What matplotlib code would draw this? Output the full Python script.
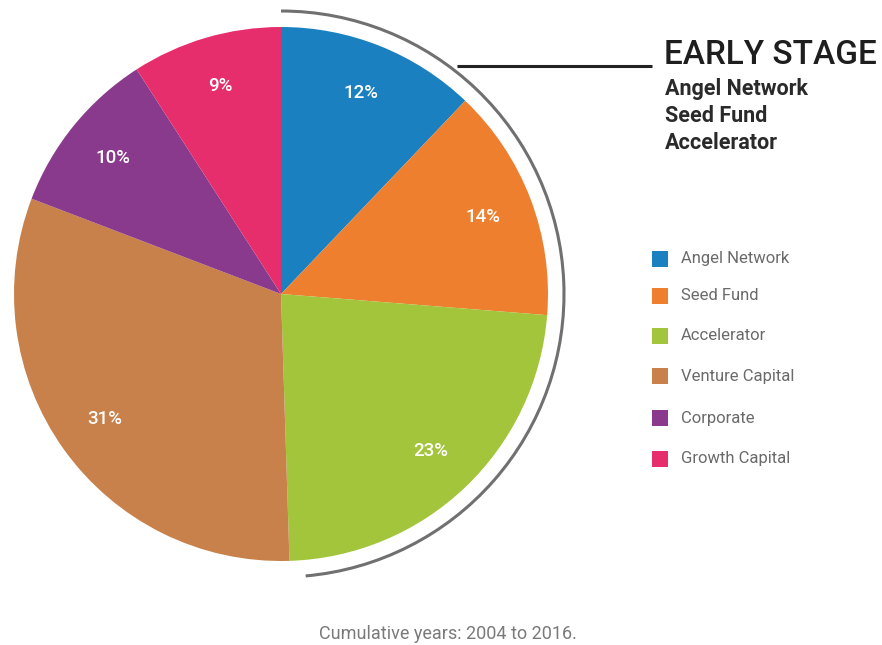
import matplotlib.pyplot as plt
from matplotlib.patches import Arc, Rectangle
import numpy as np

plt.rcParams['font.family'] = ['Roboto', 'DejaVu Sans']

categories = ["Angel Network", "Seed Fund", "Accelerator",
              "Venture Capital", "Corporate", "Growth Capital"]
shares = [12, 14, 23, 31, 10, 9]
colors = ["#1a80c0", "#ee7f2f", "#a3c53b", "#c8814a", "#8a3a8c", "#e72e6c"]
early_stage = ["Angel Network", "Seed Fund", "Accelerator"]
footer = "Cumulative years: 2004 to 2016."

W, H = 882, 645
fig = plt.figure(figsize=(W / 100, H / 100), dpi=100)
ax = fig.add_axes([0, 0, 1, 1])


def Y(y):
    # work in screen pixels, top-down
    return H - y


cx, cy, r = 281, Y(294), 267
ax.pie(shares, colors=colors, startangle=90, counterclock=False,
       center=(cx, cy), radius=r, frame=True, wedgeprops=dict(linewidth=0))
ax.set_xlim(0, W)
ax.set_ylim(0, H)
ax.set_aspect("equal")
ax.axis("off")

# percentage labels inside the slices
total = sum(shares)
ang = 90.0
for v in shares:
    mid = ang - v / total * 360 / 2
    ang -= v / total * 360
    tx = cx + 0.81 * r * np.cos(np.radians(mid))
    ty = cy + 0.81 * r * np.sin(np.radians(mid))
    ax.text(tx, ty, f"{v}%", color="white", fontsize=13.5, fontweight="medium",
            ha="center", va="center")

# bracket arc around the early-stage slices
ax.add_patch(Arc((cx, cy), 2 * 283, 2 * 283, theta1=-85, theta2=90,
                 color="#707070", lw=2.2))
ax.plot([457, 652], [Y(66), Y(66)], color="#222222", lw=2.2,
        solid_capstyle="butt")

ax.text(664, Y(55), "EARLY STAGE", fontsize=24, fontweight="medium",
        color="#1e1e1e", ha="left", va="center")
for i, name in enumerate(early_stage):
    ax.text(665, Y(89 + i * 27), name, fontsize=15.5, fontweight="bold",
            color="#2a2a2a", ha="left", va="center")

# legend
leg_y = [259, 296, 336, 376, 418, 459]
for name, c, ly in zip(categories, colors, leg_y):
    ax.add_patch(Rectangle((652, Y(ly) - 8), 16, 16, color=c, lw=0))
    ax.text(681, Y(ly), name, fontsize=12, color="#6a6a6a",
            ha="left", va="center")

ax.text(448, Y(634), footer, fontsize=13, color="#7a7a7a",
        ha="center", va="center")

fig.savefig("out.png", dpi=100)
